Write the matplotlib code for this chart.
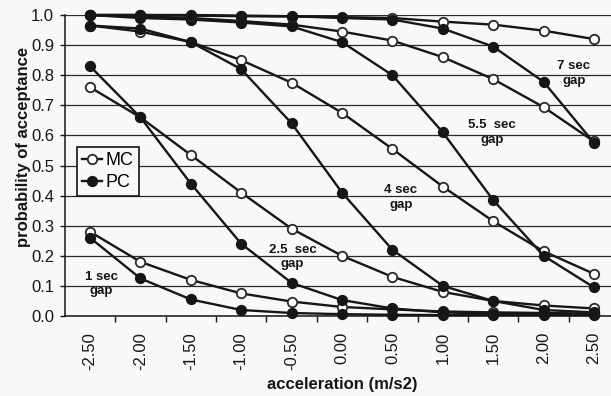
import numpy as np
import matplotlib
matplotlib.use('Agg')
import matplotlib.pyplot as plt

plt.rcParams['font.family'] = ['Liberation Sans', 'DejaVu Sans']

accel = [-2.5, -2.0, -1.5, -1.0, -0.5, 0.0, 0.5, 1.0, 1.5, 2.0, 2.5]
accel_labels = ['-2.50', '-2.00', '-1.50', '-1.00', '-0.50', '0.00', '0.50', '1.00', '1.50', '2.00', '2.50']

mc_1 = [0.28, 0.18, 0.12, 0.075, 0.048, 0.03, 0.022, 0.015, 0.012, 0.01, 0.008]
pc_1 = [0.26, 0.125, 0.055, 0.02, 0.01, 0.006, 0.004, 0.003, 0.003, 0.003, 0.003]
mc_25 = [0.76, 0.66, 0.535, 0.41, 0.29, 0.20, 0.13, 0.08, 0.05, 0.035, 0.025]
pc_25 = [0.83, 0.66, 0.44, 0.24, 0.11, 0.053, 0.025, 0.012, 0.008, 0.006, 0.005]
mc_4 = [0.965, 0.945, 0.91, 0.85, 0.775, 0.675, 0.555, 0.43, 0.315, 0.215, 0.14]
pc_4 = [0.965, 0.955, 0.91, 0.82, 0.64, 0.41, 0.22, 0.10, 0.05, 0.02, 0.012]
mc_55 = [1.0, 0.995, 0.99, 0.98, 0.968, 0.945, 0.915, 0.86, 0.787, 0.694, 0.58]
pc_55 = [1.0, 0.99, 0.985, 0.975, 0.962, 0.91, 0.80, 0.61, 0.385, 0.20, 0.095]
mc_7 = [1.0, 1.0, 0.998, 0.996, 0.995, 0.993, 0.99, 0.978, 0.968, 0.948, 0.92]
pc_7 = [1.0, 1.0, 1.0, 0.998, 0.996, 0.99, 0.985, 0.955, 0.895, 0.778, 0.575]

gap_labels = ['1 sec\ngap', '2.5  sec\ngap', '4 sec\ngap', '5.5  sec\ngap', '7 sec\ngap']
gap_label_pos = [(-2.39, 0.106), (-0.49, 0.196), (0.585, 0.394), (1.49, 0.61), (2.30, 0.805)]

bg = '#f8f8f6'
ink = '#161616'

fig = plt.figure(figsize=(6.11, 3.96), dpi=100, facecolor=bg)
ax = fig.add_axes([64.8 / 611, 80 / 396, 554.4 / 611, 301 / 396], facecolor=bg)

mc_style = dict(color=ink, lw=1.7, marker='o', ms=6.8, mfc='white', mec='#2a2a2a', mew=1.3, clip_on=False)
pc_style = dict(color=ink, lw=1.7, marker='o', ms=6.8, mfc=ink, mec=ink, mew=1.3, clip_on=False)

for i, (mc, pc) in enumerate([(mc_1, pc_1), (mc_25, pc_25), (mc_4, pc_4), (mc_55, pc_55), (mc_7, pc_7)]):
    ax.plot(accel, mc, label='MC' if i == 0 else None, zorder=3, **mc_style)
    ax.plot(accel, pc, label='PC' if i == 0 else None, zorder=3, **pc_style)

for txt, (x, y) in zip(gap_labels, gap_label_pos):
    ax.text(x, y, txt, ha='center', va='center', fontsize=9.5, fontweight='bold',
            linespacing=1.3, color=ink, zorder=4)

ax.set_xlim(-2.75, 2.75)
ax.set_ylim(0, 1)
ax.set_yticks(np.arange(0, 1.01, 0.1))
ax.set_yticklabels([f'{v:.1f}' for v in np.arange(0, 1.01, 0.1)], fontsize=12)
ax.set_xticks(accel)
ax.set_xticklabels(accel_labels, rotation=90, fontsize=12)
ax.set_xticks(np.arange(-2.25, 2.5, 0.5), minor=True)
ax.tick_params(axis='x', which='major', length=0, pad=11.5, colors=ink)
ax.tick_params(axis='x', which='minor', length=4.5, width=1, direction='out', color=ink)
ax.tick_params(axis='y', length=3.6, width=1, pad=4, colors=ink)

ax.grid(axis='y', color='#2a2a2a', lw=0.9)
ax.set_axisbelow(True)
for s in ['top', 'right']:
    ax.spines[s].set_visible(False)
for s in ['left', 'bottom']:
    ax.spines[s].set_color(ink)
    ax.spines[s].set_linewidth(1.1)

leg = ax.legend(loc='upper left', bbox_to_anchor=(0.022, 0.5615), borderaxespad=0,
                fontsize=13, handlelength=1.1, handletextpad=0.2, borderpad=0.3,
                labelspacing=0.25, numpoints=1, fancybox=False, framealpha=1,
                edgecolor=ink, facecolor=bg)
leg.get_frame().set_linewidth(1.2)

fig.text(24 / 611, 1 - 147 / 396, 'probability of acceptance', rotation=90, ha='center',
         va='center', fontsize=12, fontweight='bold', color=ink)
fig.text(342 / 611, 1 - 385 / 396, 'acceleration (m/s2)', ha='center', va='center',
         fontsize=12, fontweight='bold', color=ink)

fig.savefig('out.png', dpi=100, facecolor=bg)
